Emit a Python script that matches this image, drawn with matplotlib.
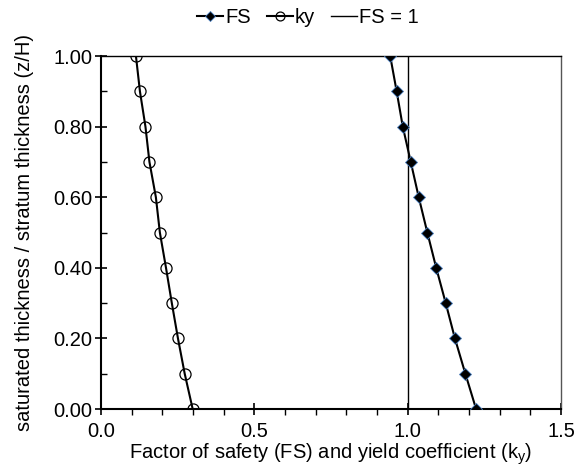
import numpy as np
import matplotlib.pyplot as plt
from matplotlib.ticker import MultipleLocator

plt.rcParams['font.family'] = ['Liberation Sans', 'DejaVu Sans']
plt.rcParams['font.size'] = 14.5

zH = [1.0, 0.9, 0.8, 0.7, 0.6, 0.5, 0.4, 0.3, 0.2, 0.1, 0.0]
fs = [0.943, 0.964, 0.984, 1.010, 1.036, 1.064, 1.093, 1.124, 1.154, 1.188, 1.223]
ky = [0.114, 0.127, 0.145, 0.158, 0.179, 0.192, 0.212, 0.231, 0.251, 0.273, 0.299]
fs_one = [1.0, 1.0]
fs_one_z = [0.0, 1.0]

fig = plt.figure(figsize=(5.79, 4.71), dpi=100)
ax = fig.add_axes([0.1744, 0.1316, 0.7946, 0.7494])

ax.plot(fs, zH, '-', color='black', lw=1.5, marker='D', ms=6,
        mfc='black', mec='#4a7fc0', mew=0.6, label='FS', zorder=3)
ax.plot(ky, zH, '-', color='black', lw=1.5, marker='o', ms=8,
        mfc='none', mec='black', mew=0.9, label='ky', zorder=3)
ax.plot(fs_one, fs_one_z, '-', color='black', lw=1.0, label='FS = 1', zorder=2)

ax.set_xlim(0, 1.5)
ax.set_ylim(0, 1.0)
ax.xaxis.set_major_locator(MultipleLocator(0.5))
ax.xaxis.set_minor_locator(MultipleLocator(0.1))
ax.yaxis.set_major_locator(MultipleLocator(0.2))
ax.yaxis.set_minor_locator(MultipleLocator(0.1))
ax.xaxis.set_major_formatter('{x:.1f}')
ax.yaxis.set_major_formatter('{x:.2f}')
ax.tick_params(axis='x', which='major', direction='inout', length=8, width=1.2, pad=5)
ax.tick_params(axis='x', which='minor', direction='out', length=4, width=1.0)
ax.tick_params(axis='y', which='major', direction='inout', length=8, width=1.2, pad=2)
ax.tick_params(axis='y', which='minor', direction='in', length=4, width=1.0)
ax.spines['left'].set_linewidth(1.5)
ax.spines['bottom'].set_linewidth(1.5)
ax.spines['top'].set_linewidth(1.0)
ax.spines['right'].set_linewidth(1.0)
ax.spines['right'].set_color('#555555')

ax.set_xlabel(r'Factor of safety (FS) and yield coefficient (k$_\mathregular{y}$)', labelpad=1)
ax.set_ylabel('saturated thickness / stratum thickness (z/H)', labelpad=14)

leg = ax.legend(loc='center', bbox_to_anchor=(0.45, 1.11), ncol=3, frameon=False,
                handlelength=1.3, handletextpad=0.1, columnspacing=0.8,
                borderaxespad=0, markerscale=0.8)

plt.savefig('out.png')
